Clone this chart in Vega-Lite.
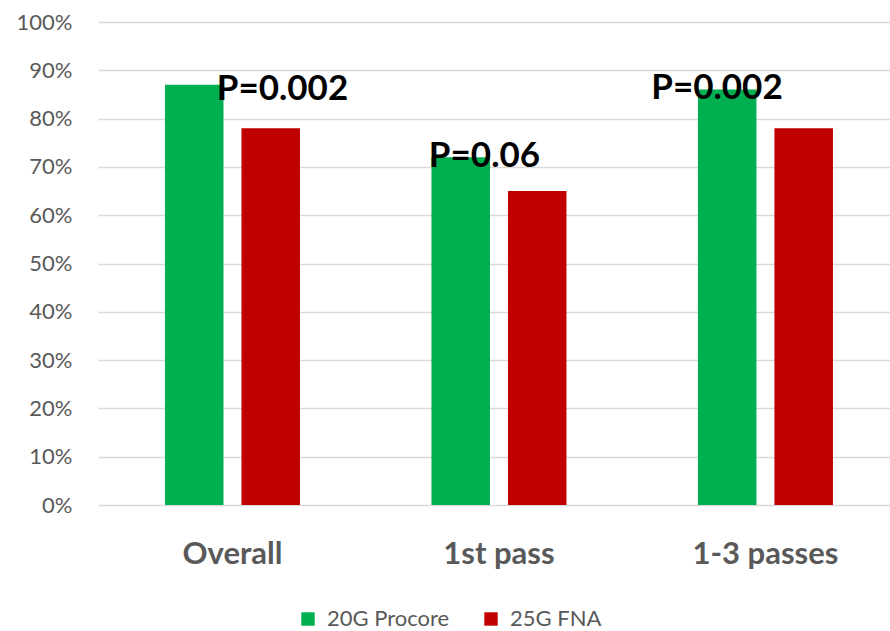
{
  "$schema": "https://vega.github.io/schema/vega-lite/v6.json",
  "width": 792,
  "height": 483,
  "autosize": "none",
  "padding": {"left": 98, "top": 22, "right": 0, "bottom": 126},
  "background": "white",
  "config": {
    "font": "Lato",
    "view": {"stroke": null}
  },
  "data": {
    "values": [
      {"category": "Overall", "group": "20G Procore", "value": 0.87, "p": "P=0.002"},
      {"category": "Overall", "group": "25G FNA", "value": 0.78},
      {"category": "1st pass", "group": "20G Procore", "value": 0.72, "p": "P=0.06"},
      {"category": "1st pass", "group": "25G FNA", "value": 0.65},
      {"category": "1-3 passes", "group": "20G Procore", "value": 0.86, "p": "P=0.002"},
      {"category": "1-3 passes", "group": "25G FNA", "value": 0.78}
    ]
  },
  "encoding": {
    "x": {
      "field": "category",
      "type": "nominal",
      "sort": ["Overall", "1st pass", "1-3 passes"],
      "scale": {"paddingInner": 0.4934, "paddingOuter": 0.2327, "align": 0.54},
      "axis": {
        "title": null,
        "labelAngle": 0,
        "labelFontSize": 31,
        "labelFontWeight": "bold",
        "labelColor": "#595959",
        "labelPadding": 34,
        "domain": false,
        "ticks": false
      }
    },
    "y": {
      "field": "value",
      "type": "quantitative",
      "scale": {"domain": [0, 1]},
      "axis": {
        "title": null,
        "format": ".0%",
        "values": [0, 0.1, 0.2, 0.3, 0.4, 0.5, 0.6, 0.7, 0.8, 0.9, 1],
        "labelFontSize": 22,
        "labelColor": "#595959",
        "labelPadding": 26,
        "domain": false,
        "ticks": false,
        "gridColor": "#d9d9d9",
        "gridWidth": 1.5
      }
    }
  },
  "layer": [
    {
      "mark": {"type": "bar"},
      "encoding": {
        "xOffset": {
          "field": "group",
          "type": "nominal",
          "sort": ["20G Procore", "25G FNA"],
          "scale": {"paddingInner": 0.235, "paddingOuter": 0}
        },
        "color": {
          "field": "group",
          "type": "nominal",
          "sort": ["20G Procore", "25G FNA"],
          "scale": {"range": ["#00B050", "#C00000"]},
          "legend": {
            "title": null,
            "orient": "none",
            "direction": "horizontal",
            "legendX": 199,
            "legendY": 586,
            "symbolType": "square",
            "symbolSize": 180,
            "symbolStrokeWidth": 0,
            "labelFontSize": 22,
            "labelColor": "#595959",
            "columnPadding": 30,
            "labelOffset": 8
          }
        }
      }
    },
    {
      "transform": [{"filter": "datum.category === 'Overall' && datum.p"}],
      "mark": {"type": "text", "fontSize": 35, "fontWeight": "bold", "color": "black", "baseline": "alphabetic", "dx": 50, "dy": 15},
      "encoding": {"text": {"field": "p"}}
    },
    {
      "transform": [{"filter": "datum.category === '1st pass' && datum.p"}],
      "mark": {"type": "text", "fontSize": 35, "fontWeight": "bold", "color": "black", "baseline": "alphabetic", "dx": -14.5, "dy": 10},
      "encoding": {"text": {"field": "p"}}
    },
    {
      "transform": [{"filter": "datum.category === '1-3 passes' && datum.p"}],
      "mark": {"type": "text", "fontSize": 35, "fontWeight": "bold", "color": "black", "baseline": "alphabetic", "dx": -48.5, "dy": 9.5},
      "encoding": {"text": {"field": "p"}}
    }
  ]
}
